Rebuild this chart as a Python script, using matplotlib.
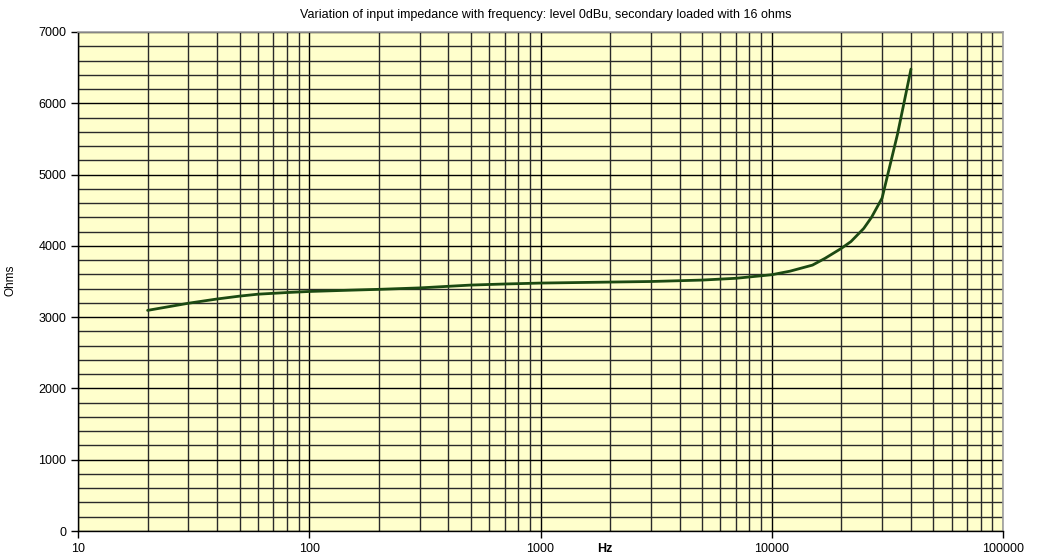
import matplotlib
matplotlib.use("Agg")
import matplotlib.pyplot as plt
import numpy as np
from matplotlib.ticker import FixedLocator, NullFormatter

plt.rcParams['font.family'] = ['Liberation Sans', 'DejaVu Sans']

freq_hz = [20, 25, 30, 40, 50, 60, 80, 100, 150, 200, 300, 500, 700, 1000, 2000, 3000,
           5000, 7000, 10000, 12000, 15000, 17000, 20000, 22000, 25000, 27000, 30000,
           35000, 40000]
impedance_ohms = [3095, 3150, 3195, 3255, 3295, 3322, 3345, 3360, 3378, 3390, 3410,
                  3450, 3465, 3478, 3492, 3500, 3520, 3545, 3595, 3645, 3730, 3825,
                  3965, 4060, 4245, 4400, 4670, 5570, 6480]

title = "Variation of input impedance with frequency: level 0dBu, secondary loaded with 16 ohms"
x_ticks = [10, 100, 1000, 10000, 100000]
x_labels = ["10", "100", "1000", "10000", "100000"]
y_ticks = [0, 1000, 2000, 3000, 4000, 5000, 6000, 7000]

fig = plt.figure(figsize=(10.47, 5.59), dpi=100)
ax = fig.add_axes([78/1047, 28/559, (1003-78)/1047, (531-32)/559])
ax.set_facecolor('#FFFFCC')
ax.set_xscale('log')
ax.set_xlim(10, 100000)
ax.set_ylim(0, 7000)

minor_x = [m * d for d in [10, 100, 1000, 10000] for m in range(2, 10)]
ax.xaxis.set_major_locator(FixedLocator(x_ticks))
ax.xaxis.set_minor_locator(FixedLocator(minor_x))
ax.xaxis.set_minor_formatter(NullFormatter())
ax.set_xticklabels(x_labels)
ax.yaxis.set_major_locator(FixedLocator(y_ticks))
ax.yaxis.set_minor_locator(FixedLocator(list(range(200, 7000, 200))))

ax.grid(True, which='major', color='#000000', linewidth=1.0)
ax.grid(True, which='minor', color='#2a2a2a', linewidth=1.0)
ax.set_axisbelow(True)

ax.plot(freq_hz, impedance_ohms, color='#1c4a12', linewidth=2.0, zorder=3,
        solid_joinstyle='round', solid_capstyle='round')

for s in ['top', 'right']:
    ax.spines[s].set_color('#a0a0a0')
    ax.spines[s].set_linewidth(1.2)
for s in ['left', 'bottom']:
    ax.spines[s].set_color('#000000')
    ax.spines[s].set_linewidth(1.0)

ax.tick_params(axis='both', which='major', direction='out', length=5, width=1,
               labelsize=9, colors='black')
ax.tick_params(axis='both', which='minor', length=0)
ax.tick_params(axis='x', pad=4)

fig.text(546/1047, 1 - 15/559, title, ha='center', va='center', fontsize=9)
fig.text(605/1047, 1 - 549/559, "Hz", ha='center', va='center', fontsize=9, fontweight='bold')
fig.text(10/1047, 1 - 280/559, "Ohms", ha='center', va='center', fontsize=8.5, rotation=90)

fig.savefig('out.png', dpi=100)
